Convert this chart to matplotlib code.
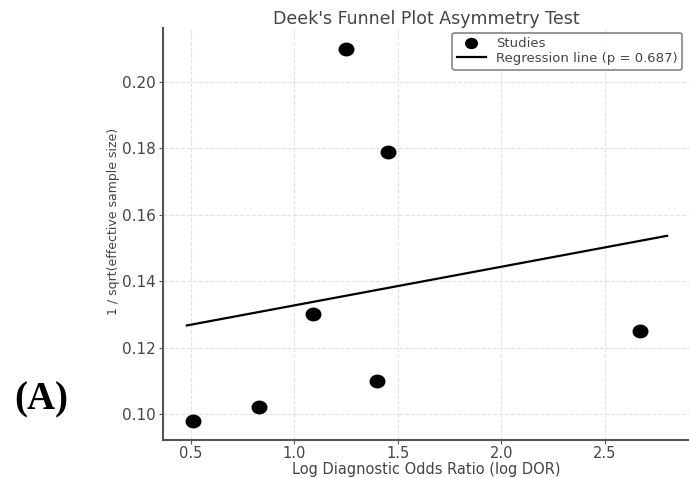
import matplotlib
matplotlib.use('Agg')

import numpy as np
import matplotlib.pyplot as plt
from matplotlib.path import Path
from matplotlib.transforms import Affine2D

# study values
log_dor = [0.51, 0.83, 1.09, 1.25, 1.40, 1.45, 2.67]
inv_sqrt_ess = [0.098, 0.102, 0.130, 0.210, 0.110, 0.179, 0.125]

# regression line end points
reg_x = [0.48, 2.80]
reg_y = [0.1267, 0.1537]
p_value = 0.687

# the original picture is a bit stretched sideways, so the dots are slightly oval
oval = Affine2D().scale(1.17, 1.0).transform_path(Path.unit_circle())

fig = plt.figure(figsize=(6.89, 4.78), dpi=100)
ax = fig.add_axes([0.2366, 0.0795, 0.7634, 0.862])

ax.plot(log_dor, inv_sqrt_ess, linestyle='none', marker=oval, color='black',
        markersize=10.5, label='Studies', zorder=3)
ax.plot(reg_x, reg_y, color='black', linewidth=1.6, label='Regression line (p = %.3f)' % p_value)

ax.set_xlim(0.365, 2.906)
ax.set_ylim(0.0922, 0.2163)
ax.set_xticks([0.5, 1.0, 1.5, 2.0, 2.5])
ax.set_yticks([0.10, 0.12, 0.14, 0.16, 0.18, 0.20])

ax.grid(True, linestyle='--', color='#e2e2e2', linewidth=0.8)
ax.set_axisbelow(True)
for s in ['top', 'right']:
    ax.spines[s].set_visible(False)
for s in ['left', 'bottom']:
    ax.spines[s].set_color('#555555')
    ax.spines[s].set_linewidth(1.5)
ax.tick_params(colors='#555555', labelcolor='#444444', labelsize=11, length=3, pad=2)
ax.tick_params(axis='x', labelsize=10.5, pad=1.5)

ax.set_title("Deek's Funnel Plot Asymmetry Test", fontsize=12.5, color='#444444', pad=2.5)
ax.set_xlabel('Log Diagnostic Odds Ratio (log DOR)', fontsize=10.5, color='#444444', labelpad=0.5)
ax.set_ylabel('1 / sqrt(effective sample size)', fontsize=9, color='#444444', labelpad=1.5)
ax.yaxis.label.set_y(0.53)

leg = ax.legend(loc='upper right', fontsize=9.5, frameon=True, borderpad=0.35,
                handlelength=2.2, labelspacing=0.15, markerscale=0.8,
                bbox_to_anchor=(1.0, 1.005))
leg.get_frame().set_edgecolor('#666666')
leg.get_frame().set_linewidth(1.2)
for t in leg.get_texts():
    t.set_color('#444444')

fig.text(0.02, 0.163, '(A)', fontsize=28, fontweight='bold', family='Liberation Serif',
         va='center', ha='left')

fig.savefig('out.png', dpi=100)
